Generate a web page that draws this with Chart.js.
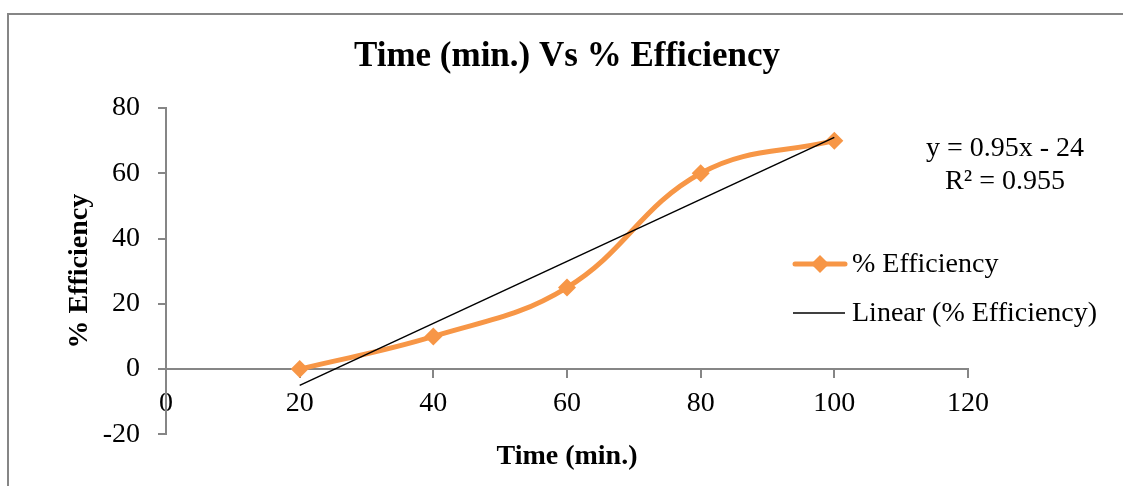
<!DOCTYPE html>
<html>
<head>
<meta charset="utf-8">
<script src="https://cdn.jsdelivr.net/npm/chart.js@4/dist/chart.umd.min.js"></script>
<style>
  html, body { margin: 0; padding: 0; background: #fff; }
  #wrap { width: 1123px; height: 486px; }
</style>
</head>
<body>
<div id="wrap"><canvas id="grafico" width="1123" height="486"></canvas></div>
<script>
// dados
const tempos = [20, 40, 60, 80, 100];
const eficiencia = [0, 10, 25, 60, 70];
// linha de tendência (y = 0.95x - 24) nos extremos
const tendenciaX = [20, 100];
const tendenciaY = [-5, 71];
const equacao = ['y = 0.95x - 24', 'R² = 0.955'];
const ticksX = [0, 20, 40, 60, 80, 100, 120];
const ticksY = [-20, 0, 20, 40, 60, 80];

const fonte = '"Liberation Serif", "Times New Roman", serif';
const laranja = '#F79646';
const cinza = '#868686';

// moldura do gráfico (estilo Excel)
const moldura = {
  id: 'moldura',
  beforeDraw(chart) {
    const ctx = chart.ctx;
    ctx.save();
    ctx.fillStyle = '#fff';
    ctx.fillRect(0, 0, chart.width, chart.height);
    ctx.strokeStyle = cinza;
    ctx.lineWidth = 2;
    ctx.strokeRect(8, 14, 1300, 600);
    ctx.restore();
  }
};

// legenda e equação desenhadas por cima da área do gráfico
const legendaExcel = {
  id: 'legendaExcel',
  afterDraw(chart) {
    const ctx = chart.ctx;
    const ds = chart.data.datasets;
    ctx.save();
    ctx.font = '28px ' + fonte;
    ctx.fillStyle = '#000';
    ctx.textBaseline = 'middle';

    // item 1
    ctx.strokeStyle = ds[0].borderColor;
    ctx.lineWidth = ds[0].borderWidth;
    ctx.lineCap = 'round';
    ctx.beginPath();
    ctx.moveTo(795, 264);
    ctx.lineTo(845, 264);
    ctx.stroke();
    ctx.fillStyle = ds[0].pointBackgroundColor;
    ctx.beginPath();
    ctx.moveTo(820, 255);
    ctx.lineTo(829, 264);
    ctx.lineTo(820, 273);
    ctx.lineTo(811, 264);
    ctx.closePath();
    ctx.fill();
    ctx.fillStyle = '#000';
    ctx.textAlign = 'left';
    ctx.fillText(ds[0].label, 852, 265);

    // item 2
    ctx.strokeStyle = ds[1].borderColor;
    ctx.lineWidth = ds[1].borderWidth;
    ctx.lineCap = 'butt';
    ctx.beginPath();
    ctx.moveTo(793, 313);
    ctx.lineTo(845, 313);
    ctx.stroke();
    ctx.fillText(ds[1].label, 852, 314);

    // equação da tendência
    ctx.textAlign = 'center';
    ctx.fillText(equacao[0], 1005, 149);
    ctx.fillText(equacao[1], 1005, 182);
    ctx.restore();
  }
};

const ctx = document.getElementById('grafico').getContext('2d');
const grafico = new Chart(ctx, {
  type: 'scatter',
  data: {
    datasets: [{
      label: '% Efficiency',
      data: tempos.map((t, i) => ({ x: t, y: eficiencia[i] })),
      showLine: true,
      tension: 0.4,
      borderColor: laranja,
      borderWidth: 5,
      pointStyle: 'rectRot',
      pointRadius: 9,
      pointBackgroundColor: laranja,
      pointBorderColor: laranja,
      pointBorderWidth: 0,
      order: 2
    }, {
      label: 'Linear (% Efficiency)',
      data: tendenciaX.map((t, i) => ({ x: t, y: tendenciaY[i] })),
      showLine: true,
      borderColor: '#000',
      borderWidth: 1.5,
      pointRadius: 0,
      order: 1
    }]
  },
  options: {
    responsive: false,
    animation: false,
    devicePixelRatio: 1,
    layout: { padding: { left: 0, right: 155, top: 0, bottom: 0 } },
    scales: {
      x: {
        type: 'linear',
        position: { y: 0 },
        min: 0,
        max: 120,
        afterBuildTicks(scale) { scale.ticks = ticksX.map(v => ({ value: v })); },
        grid: { drawOnChartArea: false, drawTicks: true, tickLength: 8, color: cinza, lineWidth: 2 },
        border: { display: true, color: cinza, width: 2 },
        ticks: { color: '#000', font: { family: fonte, size: 28 }, padding: 10, maxRotation: 0 }
      },
      y: {
        type: 'linear',
        position: 'left',
        min: -20,
        max: 80,
        afterBuildTicks(scale) { scale.ticks = ticksY.map(v => ({ value: v })); },
        afterFit(scale) { scale.width = 166; },
        grid: { drawOnChartArea: false, drawTicks: true, tickLength: 8, color: cinza, lineWidth: 2 },
        border: { display: true, color: cinza, width: 2 },
        ticks: { color: '#000', font: { family: fonte, size: 28 }, padding: 18 },
        title: {
          display: true,
          text: '% Efficiency',
          color: '#000',
          font: { family: fonte, size: 28, weight: 'bold' },
          padding: { top: 63, bottom: 0 }
        }
      }
    },
    plugins: {
      legend: { display: false },
      tooltip: { enabled: false },
      title: {
        display: true,
        text: 'Time (min.) Vs % Efficiency',
        color: '#000',
        fullSize: false,
        font: { family: fonte, size: 35, weight: 'bold' },
        padding: { top: 36, bottom: 30 }
      },
      subtitle: {
        display: true,
        position: 'bottom',
        text: 'Time (min.)',
        color: '#000',
        fullSize: false,
        font: { family: fonte, size: 28, weight: 'bold' },
        padding: { top: 6, bottom: 12 }
      }
    }
  },
  plugins: [moldura, legendaExcel]
});
</script>
</body>
</html>
